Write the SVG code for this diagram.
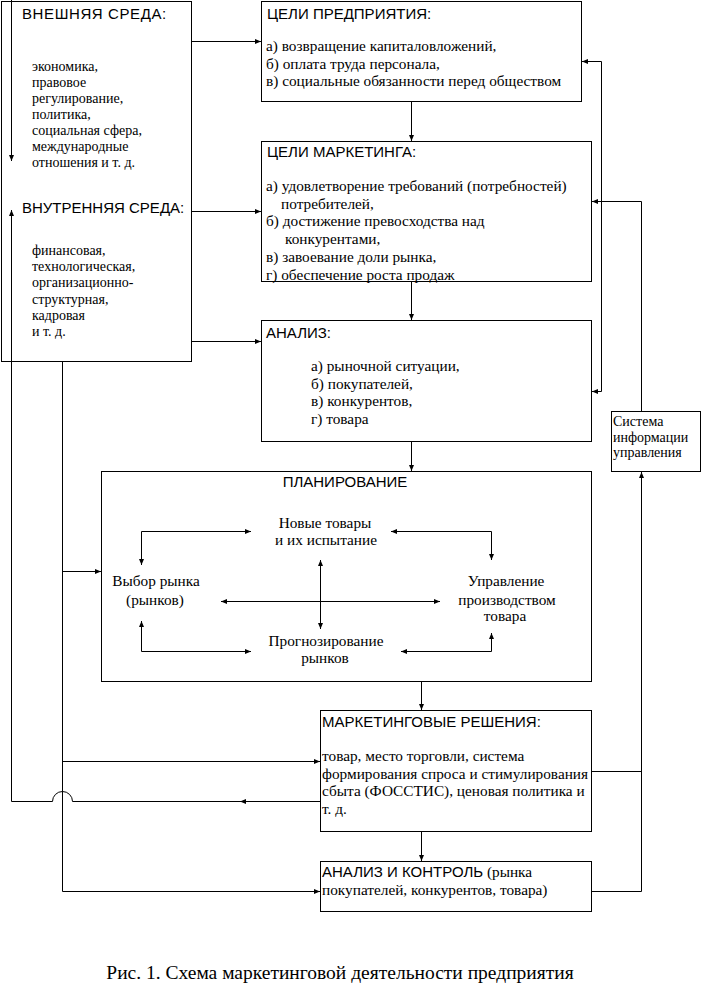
<svg xmlns="http://www.w3.org/2000/svg" width="701" height="991" viewBox="0 0 701 991">
<style>
  rect.box { fill: #ffffff; stroke: #000000; stroke-width: 1; }
  .c path { fill: none; stroke: #000000; stroke-width: 1; }
  .h { font-family: "Liberation Sans", Arial, sans-serif; font-size: 15px; fill: #000; }
  .b { font-family: "Liberation Serif", "Times New Roman", serif; font-size: 15.3px; fill: #000; }
  .l { font-family: "Liberation Serif", "Times New Roman", serif; font-size: 14px; fill: #000; }
  .s { font-family: "Liberation Serif", "Times New Roman", serif; font-size: 14px; fill: #000; }
  .cap { font-family: "Liberation Serif", "Times New Roman", serif; font-size: 19.5px; fill: #000; }
  .m { text-anchor: middle; }
</style>
<defs>
  <marker id="ah" markerUnits="userSpaceOnUse" markerWidth="6" markerHeight="6" refX="6" refY="3" orient="auto-start-reverse">
    <path d="M0,0.5 L6,3 L0,5.5 z" fill="#000"/>
  </marker>
</defs>
<rect width="701" height="991" fill="#ffffff"/>

<g id="env">
  <rect class="box" x="1.5" y="1.5" width="190" height="360"/>
  <text class="h" x="22" y="19" letter-spacing="0.6">ВНЕШНЯЯ СРЕДА:</text>
  <text class="l" x="32" y="71">экономика,</text>
  <text class="l" x="32" y="87">правовое</text>
  <text class="l" x="32" y="103">регулирование,</text>
  <text class="l" x="32" y="119">политика,</text>
  <text class="l" x="32" y="135">социальная сфера,</text>
  <text class="l" x="32" y="151">международные</text>
  <text class="l" x="32" y="167">отношения и т. д.</text>
  <text class="h" x="22" y="213">ВНУТРЕННЯЯ СРЕДА:</text>
  <text class="l" x="32" y="254.5">финансовая,</text>
  <text class="l" x="32" y="270.5">технологическая,</text>
  <text class="l" x="32" y="287">организационно-</text>
  <text class="l" x="32" y="303.5">структурная,</text>
  <text class="l" x="32" y="319.5">кадровая</text>
  <text class="l" x="32" y="335.5">и т. д.</text>
</g>

<g id="goals-enterprise">
  <rect class="box" x="261.5" y="1.5" width="320" height="100"/>
  <text class="h" x="267" y="18.5">ЦЕЛИ ПРЕДПРИЯТИЯ:</text>
  <text class="b" x="266" y="51">а) возвращение капиталовложений,</text>
  <text class="b" x="266" y="68.5">б) оплата труда персонала,</text>
  <text class="b" x="266" y="86">в) социальные обязанности перед обществом</text>
</g>

<g id="goals-marketing">
  <rect class="box" x="261.5" y="141.5" width="330" height="140"/>
  <text class="h" x="267" y="157">ЦЕЛИ МАРКЕТИНГА:</text>
  <text class="b" x="266" y="191">а) удовлетворение требований (потребностей)</text>
  <text class="b" x="281" y="209">потребителей,</text>
  <text class="b" x="266" y="226">б) достижение превосходства над</text>
  <text class="b" x="285" y="244">конкурентами,</text>
  <text class="b" x="266" y="262">в) завоевание доли рынка,</text>
  <text class="b" x="266" y="279.5">г) обеспечение роста продаж</text>
</g>

<g id="analysis">
  <rect class="box" x="261.5" y="320.5" width="330" height="121"/>
  <text class="h" x="266" y="337.5">АНАЛИЗ:</text>
  <text class="b" x="311" y="371">а) рыночной ситуации,</text>
  <text class="b" x="311" y="388.5">б) покупателей,</text>
  <text class="b" x="311" y="406">в) конкурентов,</text>
  <text class="b" x="311" y="424">г) товара</text>
</g>

<g id="planning">
  <rect class="box" x="101.5" y="471.5" width="490" height="210"/>
  <text class="h m" x="345" y="487">ПЛАНИРОВАНИЕ</text>
  <text class="b m" x="325" y="528">Новые товары</text>
  <text class="b m" x="326" y="545">и их испытание</text>
  <text class="b m" x="156" y="586">Выбор рынка</text>
  <text class="b m" x="155" y="604.5">(рынков)</text>
  <text class="b m" x="506" y="586">Управление</text>
  <text class="b m" x="507" y="604.5">производством</text>
  <text class="b m" x="505" y="621">товара</text>
  <text class="b m" x="326" y="646">Прогнозирование</text>
  <text class="b m" x="325" y="663">рынков</text>
</g>

<g id="decisions">
  <rect class="box" x="320.5" y="710.5" width="271" height="121"/>
  <text class="h" x="322" y="727">МАРКЕТИНГОВЫЕ РЕШЕНИЯ:</text>
  <text class="b" x="322" y="761">товар, место торговли, система</text>
  <text class="b" x="322" y="779">формирования спроса и стимулирования</text>
  <text class="b" x="322" y="796">сбыта (ФОССТИС), ценовая политика и</text>
  <text class="b" x="322" y="814">т. д.</text>
</g>

<g id="control">
  <rect class="box" x="320.5" y="861.5" width="271" height="50"/>
  <text x="322" y="877"><tspan class="h">АНАЛИЗ И КОНТРОЛЬ</tspan><tspan class="b"> (рынка</tspan></text>
  <text class="b" x="322" y="895">покупателей, конкурентов, товара)</text>
</g>

<g id="mis">
  <rect class="box" x="611.5" y="411.5" width="89" height="60"/>
  <text class="s" x="613" y="426">Система</text>
  <text class="s" x="613" y="442">информации</text>
  <text class="s" x="613" y="457">управления</text>
</g>

<g id="connectors" class="c">
  <path d="M191.5,41.5 H261" marker-end="url(#ah)"/>
  <path d="M191.5,211.5 H261" marker-end="url(#ah)"/>
  <path d="M191.5,341.5 H261" marker-end="url(#ah)"/>
  <path d="M11.5,0 V161" marker-end="url(#ah)"/>
  <path d="M320.5,801.5 H240" marker-end="url(#ah)"/>
  <path d="M240,801.5 H72.5 A10,10 0 0 0 52.5,801.5 H11.5 V210" marker-end="url(#ah)"/>
  <path d="M62.5,361.5 V891.5 H320" marker-end="url(#ah)"/>
  <path d="M62.5,571.5 H101" marker-end="url(#ah)"/>
  <path d="M62.5,761.5 H320" marker-end="url(#ah)"/>
  <path d="M411.5,101.5 V141" marker-end="url(#ah)"/>
  <path d="M411.5,281.5 V320" marker-end="url(#ah)"/>
  <path d="M411.5,441.5 V471" marker-end="url(#ah)"/>
  <path d="M421.5,681.5 V710" marker-end="url(#ah)"/>
  <path d="M421.5,831.5 V861" marker-end="url(#ah)"/>
  <path d="M582,61.5 H601.5 V391.5 H592" marker-start="url(#ah)" marker-end="url(#ah)"/>
  <path d="M641.5,411.5 V201.5 H592" marker-end="url(#ah)"/>
  <path d="M591.5,771.5 H641.5"/>
  <path d="M591.5,891.5 H641.5 V472" marker-end="url(#ah)"/>
  <path d="M141.5,565 V531.5 H251" marker-start="url(#ah)" marker-end="url(#ah)"/>
  <path d="M141.5,621 V651.5 H251" marker-start="url(#ah)" marker-end="url(#ah)"/>
  <path d="M320.5,560 V629" marker-start="url(#ah)" marker-end="url(#ah)"/>
  <path d="M221,601.5 H440" marker-start="url(#ah)" marker-end="url(#ah)"/>
  <path d="M391,531.5 H491.5 V560" marker-start="url(#ah)" marker-end="url(#ah)"/>
  <path d="M401,651.5 H491.5 V633" marker-start="url(#ah)" marker-end="url(#ah)"/>
</g>

<text class="cap m" x="340" y="979">Рис. 1. Схема маркетинговой деятельности предприятия</text>
</svg>
